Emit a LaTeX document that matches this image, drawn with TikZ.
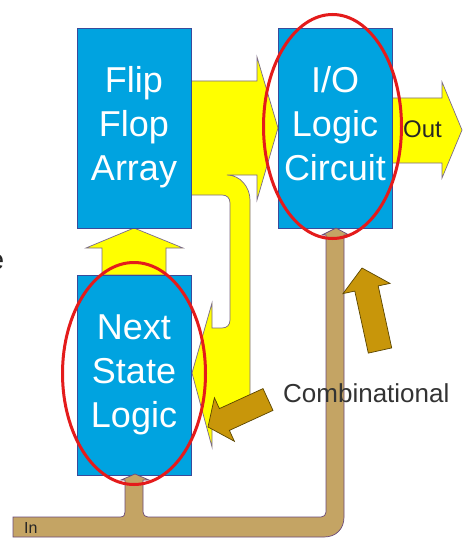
\documentclass[tikz,border=0pt]{standalone}
\usepackage{fontspec}
\setmainfont{Liberation Sans}
\definecolor{boxblue}{HTML}{00A3E0}
\definecolor{boxedge}{HTML}{3A4A9A}
\definecolor{yel}{HTML}{FFFF00}
\definecolor{yeledge}{HTML}{7A6A8A}
\definecolor{bustan}{HTML}{C4A464}
\definecolor{busedge}{HTML}{6A4A7A}
\definecolor{goldarrow}{HTML}{C8960A}
\definecolor{goldedge}{HTML}{5A4500}
\definecolor{ellred}{HTML}{E41B1B}
\definecolor{txtgray}{HTML}{333333}
\begin{document}
\begin{tikzpicture}[x=1pt,y=-1pt,
  blk/.style={draw=boxedge, fill=boxblue, line width=0.8pt, minimum width=114pt, minimum height=200pt, inner sep=0pt},
  boxtxt/.style={text=white, align=center, inner sep=0pt, font=\fontsize{36}{44}\selectfont},
  yarrow/.style={fill=yel, draw=yeledge, line width=0.7pt, line join=miter},
  busarrow/.style={fill=bustan, draw=busedge, line width=0.7pt},
  garrow/.style={fill=goldarrow, draw=goldedge, line width=0.7pt},
  ring/.style={draw=ellred, line width=3pt}]
\fill[white] (0,0) rectangle (474,559);
\useasboundingbox (0,0) rectangle (474,559);

% yellow arrows
\draw[yarrow] (392,98) -- (442,98) -- (442,82) -- (462,130) -- (442,178) -- (442,163) -- (392,163) -- cycle;
\draw[yarrow] (102,275) -- (102,248) -- (86,248) -- (134,228) -- (183,248) -- (166,248) -- (166,275) -- cycle;
\draw[yarrow] (191,81) -- (257,81) -- (257,57) -- (278,128) -- (257,200) -- (257,175) -- (227,175)
  .. controls (240,175) and (250,187) .. (250,200) -- (250,396)
  .. controls (250,409) and (242,418) .. (230,418) -- (212,418) -- (212,447) -- (192,373) -- (212,303) -- (212,328) -- (222,328)
  .. controls (227,328) and (230,325) .. (230,320) -- (230,203)
  .. controls (230,198) and (227,195) .. (222,195) -- (191,195) -- cycle;

% blocks
\node[blk] (ff) at (134,128) {};
\node[blk] (io) at (335,128) {};
\node[blk] (ns) at (134,375) {};
\node[boxtxt] (fft) at (134,127.5) {Flip\\Flop\\Array};
\node[boxtxt] (iot) at (335,124) {I/O\\Logic\\Circuit};
\node[boxtxt] (nst) at (134,375) {Next\\State\\Logic};

% input bus
\draw[busarrow] (13,517) -- (120,517) .. controls (124,517) and (125,515) .. (125,512) -- (125,480) -- (121,480) -- (135,474) -- (149,480) -- (143,480) -- (143,512)
  .. controls (143,515) and (145,517) .. (148,517) -- (321,517) .. controls (324,517) and (326,515) .. (326,512) -- (326,235) -- (322,235) -- (336,228) -- (349,235) -- (344,235) -- (344,517)
  .. controls (344,529) and (336,537) .. (324,537) -- (13,537) -- cycle;

% combinational arrows
\draw[garrow] (391.7,347.9) -- (378.2,285.9) -- (390,283.4) -- (362,268) -- (343,293.6) -- (354.8,291.1) -- (368.3,353.1) -- cycle;
\draw[garrow] (273,410.4) -- (229.4,430.4) -- (234.4,441.3) -- (208,427) -- (214.4,397.7) -- (219.4,408.6) -- (263,388.6) -- cycle;

% labels
\node[anchor=base west, inner sep=0pt, text=txtgray, font=\fontsize{26}{30}\selectfont] (comb) at (283,402) {Combinational};
\node[anchor=base west, inner sep=0pt, text=black!85, font=\fontsize{16}{19}\selectfont] (in) at (24,533) {In};
\node[anchor=base west, inner sep=0pt, text=black!85, font=\fontsize{24}{28}\selectfont] (out) at (403,138) {Out};
\node[anchor=base east, inner sep=0pt, text=black!85, font=\fontsize{28}{32}\selectfont] (cut) at (4.5,269) {e};

% red ellipses
\draw[ring] (332.5,126.5) ellipse [x radius=69pt, y radius=112pt];
\draw[ring] (134,373.5) ellipse [x radius=71.5pt, y radius=111pt];
\end{tikzpicture}
\end{document}
